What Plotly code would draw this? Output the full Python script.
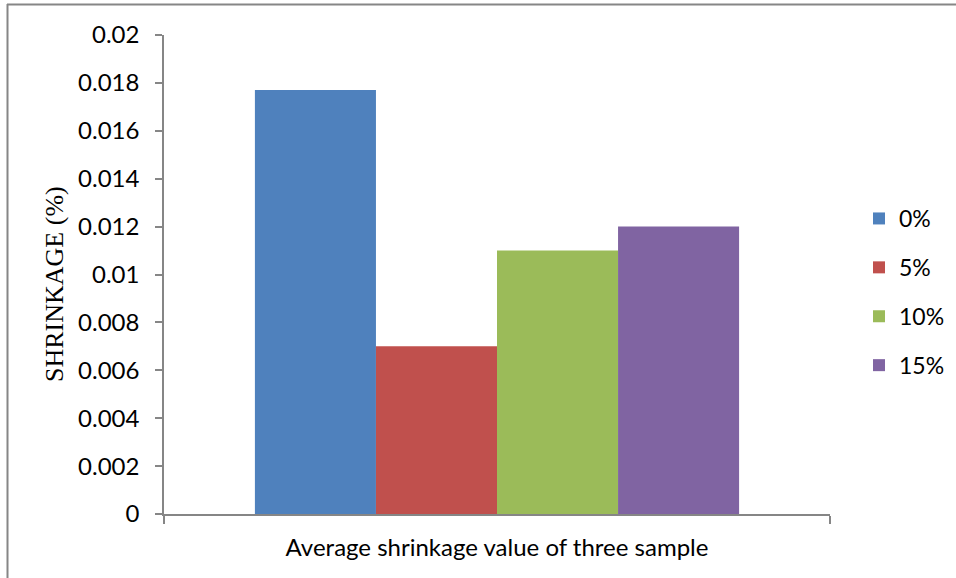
import plotly.graph_objects as go

categories = ["Average shrinkage value of three sample"]
series_names = ["0%", "5%", "10%", "15%"]
series_values = [[0.0177], [0.007], [0.011], [0.012]]
colors = ["#4F81BD", "#C0504D", "#9BBB59", "#8064A2"]
y_tickvals = [0, 0.002, 0.004, 0.006, 0.008, 0.01, 0.012, 0.014, 0.016, 0.018, 0.02]
y_ticktext = ["0", "0.002", "0.004", "0.006", "0.008", "0.01", "0.012", "0.014", "0.016", "0.018", "0.02"]
y_title = "SHRINKAGE (%)"

fig = go.Figure()
for i, (name, vals) in enumerate(zip(series_names, series_values)):
    fig.add_trace(go.Bar(x=categories, y=vals, name=name, marker=dict(color=colors[i], line=dict(width=0)),
                         legendgroup=name))

L, R, T, B = 164, 126, 35, 64
W, H = 956, 578
pw, ph = W - L - R, H - T - B

def px_x(p):
    return (p - L) / pw

def px_y(p):
    return (H - B - p) / ph

fig.update_layout(
    template="none",
    width=W, height=H,
    margin=dict(l=L, r=R, t=T, b=B, pad=0, autoexpand=False),
    paper_bgcolor="white", plot_bgcolor="white",
    barmode="group", bargap=0.273, bargroupgap=0,
    font=dict(family="Lato", size=24, color="black"),
    legend=dict(x=px_x(859), y=px_y(292), xanchor="left", yanchor="middle",
                font=dict(family="Lato", size=23), tracegroupgap=16, traceorder="grouped",
                bgcolor="rgba(0,0,0,0)", borderwidth=0),
    showlegend=True,
    xaxis=dict(type="category", range=[-0.5, 0.5], showline=True, linecolor="#868686", linewidth=1.5,
               ticks="outside", tickson="boundaries", ticklen=8, tickcolor="#868686", tickwidth=1.5,
               showgrid=False, zeroline=False, automargin=False, ticklabelstandoff=11,
               tickfont=dict(family="Lato", size=24)),
    yaxis=dict(range=[0, 0.02], tickvals=y_tickvals, ticktext=y_ticktext, showline=True,
               linecolor="#868686", linewidth=1.5, ticks="outside", ticklen=7, tickcolor="#868686",
               tickwidth=1.5, showgrid=False, zeroline=False, automargin=False, ticklabelstandoff=11,
               tickfont=dict(family="Lato", size=24)),
    annotations=[
        dict(text=y_title, xref="paper", yref="paper", x=px_x(54), y=px_y(284), textangle=-90,
             showarrow=False, xanchor="center", yanchor="middle",
             font=dict(family="Liberation Serif", size=26, color="black")),
    ],
    shapes=[
        dict(type="line", xref="paper", yref="paper", x0=px_x(7), x1=px_x(960), y0=px_y(4.5), y1=px_y(4.5),
             line=dict(color="#868686", width=2)),
        dict(type="line", xref="paper", yref="paper", x0=px_x(7.5), x1=px_x(7.5), y0=px_y(4), y1=px_y(580),
             line=dict(color="#868686", width=2)),
    ],
)

fig.write_html("out.html", post_script="document.body.style.margin='0';",
               config={"displayModeBar": False})
